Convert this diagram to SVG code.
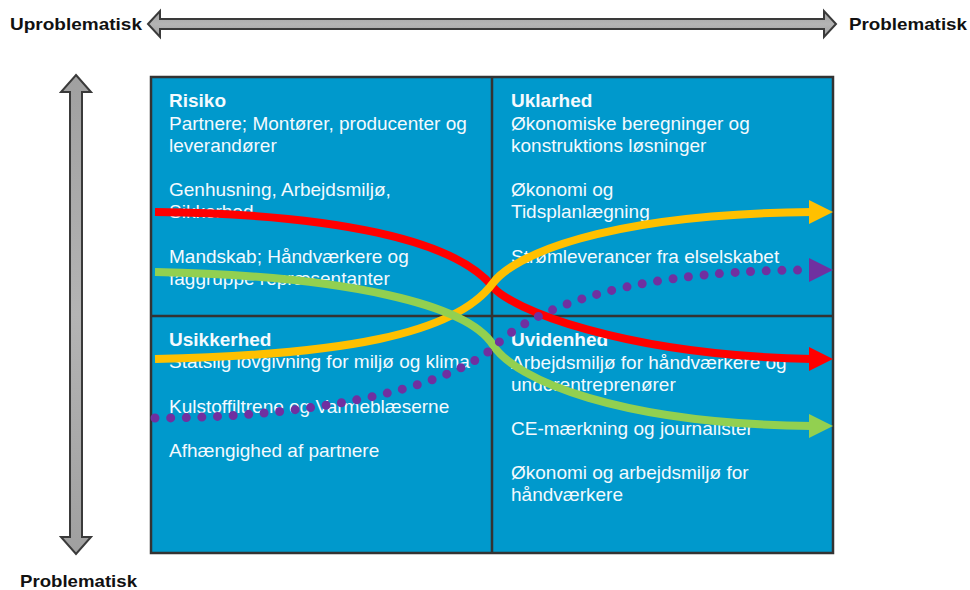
<svg xmlns="http://www.w3.org/2000/svg" width="970" height="590" viewBox="0 0 970 590">
  <style>
    .axis { font-family: "Liberation Sans", Arial, sans-serif; font-weight: bold; font-size: 16.5px; fill: #111; }
    .q { font-family: "Liberation Sans", Arial, sans-serif; font-size: 19px; fill: #F4FAFE; }
    .q .h { font-weight: bold; }
    .frame { fill: #0099CC; stroke: #333; stroke-width: 2.5; }
    .div { stroke: #333; stroke-width: 2.5; fill: none; }
    .axarrow { fill: url(#gray); stroke: #3A3A3A; stroke-width: 2; stroke-linejoin: miter; }
    .curve { fill: none; stroke-width: 8; stroke-linecap: butt; }
    .dots { fill: none; stroke: #7030A0; stroke-width: 9; stroke-linecap: round; stroke-dasharray: 0 15.6; }
  </style>
  <defs>
    <linearGradient id="gray" x1="0" y1="0" x2="0" y2="1">
      <stop offset="0" stop-color="#A0A0A0"/>
      <stop offset="0.5" stop-color="#B4B4B4"/>
      <stop offset="1" stop-color="#A0A0A0"/>
    </linearGradient>
  </defs>

  <!-- axes -->
  <g id="axis-horizontal">
    <polygon class="axarrow" points="148,24 160,11 160,19 824,19 824,11 836,24 824,37 824,29 160,29 160,37"/>
    <text class="axis" x="10" y="30" textLength="132" lengthAdjust="spacingAndGlyphs">Uproblematisk</text>
    <text class="axis" x="849" y="30" textLength="118" lengthAdjust="spacingAndGlyphs">Problematisk</text>
  </g>
  <g id="axis-vertical">
    <polygon class="axarrow" points="76,75 91,92 82,92 82,537 91,537 76,554 61,537 70,537 70,92 61,92"/>
    <text class="axis" x="20" y="587" textLength="117" lengthAdjust="spacingAndGlyphs">Problematisk</text>
  </g>

  <!-- matrix frame -->
  <g id="matrix">
    <rect class="frame" x="151" y="77" width="682" height="476"/>
    <line class="div" x1="492" y1="77" x2="492" y2="553"/>
    <line class="div" x1="151" y1="316" x2="833" y2="316"/>
  </g>

  <g id="risiko" class="q">
    <text x="169" y="107" class="h">Risiko</text>
    <text x="169" y="130">Partnere; Montører, producenter og</text>
    <text x="169" y="152">leverandører</text>
    <text x="169" y="196">Genhusning, Arbejdsmiljø,</text>
    <text x="169" y="218">Sikkerhed</text>
    <text x="169" y="263">Mandskab; Håndværkere og</text>
    <text x="169" y="285">faggruppe repræsentanter</text>
  </g>
  <g id="uklarhed" class="q">
    <text x="511" y="107" class="h">Uklarhed</text>
    <text x="511" y="130">Økonomiske beregninger og</text>
    <text x="511" y="152">konstruktions løsninger</text>
    <text x="511" y="196">Økonomi og</text>
    <text x="511" y="218">Tidsplanlægning</text>
    <text x="511" y="263">Strømleverancer fra elselskabet</text>
  </g>
  <g id="usikkerhed" class="q">
    <text x="169" y="346" class="h">Usikkerhed</text>
    <text x="169" y="368">Statslig lovgivning for miljø og klima</text>
    <text x="169" y="413">Kulstoffiltrene og Varmeblæserne</text>
    <text x="169" y="457">Afhængighed af partnere</text>
  </g>
  <g id="uvidenhed" class="q">
    <text x="511" y="346" class="h">Uvidenhed</text>
    <text x="511" y="369">Arbejdsmiljø for håndværkere og</text>
    <text x="511" y="391">underentreprenører</text>
    <text x="511" y="435">CE-mærkning og journalister</text>
    <text x="511" y="479">Økonomi og arbejdsmiljø for</text>
    <text x="511" y="501">håndværkere</text>
  </g>

  <!-- trend connectors -->
  <g id="connectors">
    <path class="curve" stroke="#FF0000" d="M155,212 C335,214 455,240 493,287 C510,308 620,355 812,359"/>
    <polygon fill="#FF0000" points="809,347 833,359 809,371"/>
    <path class="curve" stroke="#FFC000" d="M155,359 C340,355 455,335 493,283 C512,257 600,214 812,212"/>
    <polygon fill="#FFC000" points="809,200 833,212 809,224"/>
    <path class="curve" stroke="#92D050" d="M155,272 C350,276 468,305 493,345 C515,380 620,424 812,426"/>
    <polygon fill="#92D050" points="809,414 833,426 809,438"/>
    <path class="dots" d="M155,418 C300,418 440,392 493,348 C520,320 600,270 812,270"/>
    <polygon fill="#7030A0" points="809,258 833,270 809,282"/>
  </g>
</svg>
